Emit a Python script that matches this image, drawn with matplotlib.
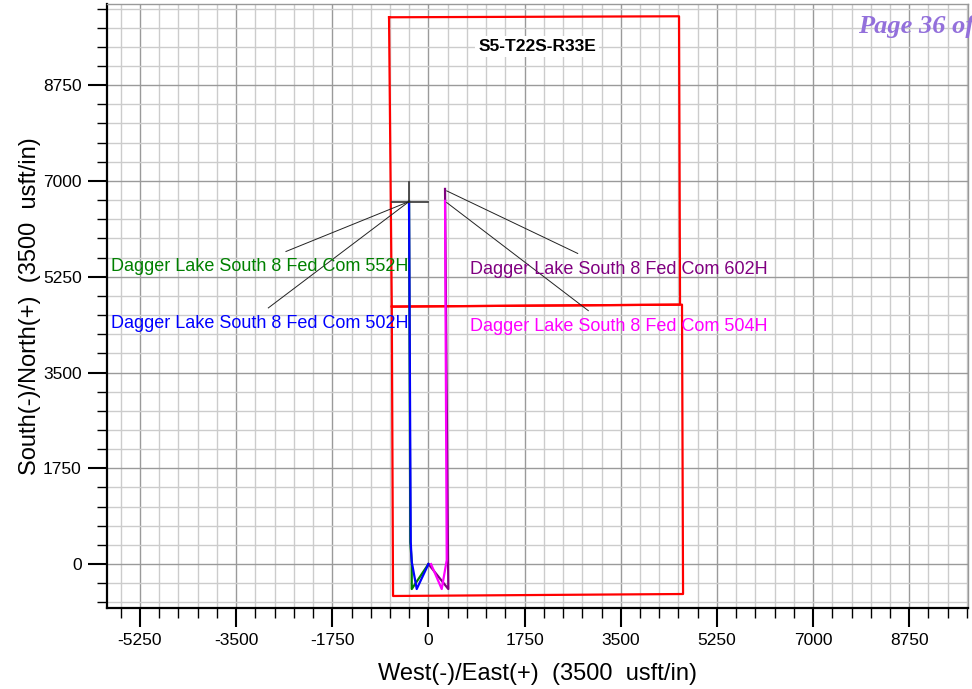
import numpy as np
import matplotlib
matplotlib.use('Agg')
import matplotlib.pyplot as plt
from matplotlib.ticker import MultipleLocator

plt.rcParams['font.family'] = ['Liberation Sans', 'DejaVu Sans']
plt.rcParams['axes.unicode_minus'] = False

# well paths (East, North) in usft
w552_e = [0, -304, -304, -330, -353]
w552_n = [0, -456, 42, 400, 6623]
w502_e = [0, -213, -304, -322, -353]
w502_n = [0, -456, 42, 400, 6623]
w602_e = [0, 362, 357, 302]
w602_n = [0, -456, 73, 6854]
w504_e = [47, 242, 333, 302]
w504_n = [0, -456, 73, 6636]

# section lines
upper_e = [-717, 4561, 4579, -667, -717]
upper_n = [9990, 10008, 4740, 4704, 9990]
lower_e = [-667, 4615, 4634, -644, -667]
lower_n = [4704, 4740, -547, -583, 4704]

# label leaders: (start east, start north, end east, end north)
leaders = [(-353, 6623, -2593, 5711),
           (-353, 6623, -2914, 4680),
           (333, 6818, 2717, 5675),
           (333, 6605, 2910, 4630)]

labels = ['Dagger Lake South 8 Fed Com 552H', 'Dagger Lake South 8 Fed Com 502H',
          'Dagger Lake South 8 Fed Com 602H', 'Dagger Lake South 8 Fed Com 504H']
label_e = [-5777, -5777, 760, 760]
label_n = [5432, 4400, 5390, 4340]
label_colors = ['#008000', '#0000ff', '#800080', '#ff00ff']

fig = plt.figure(figsize=(9.72, 6.89), dpi=100)
ax = fig.add_axes([0.1098, 0.118, 0.8858, 0.876])

ax.set_xlim(-5855, 9815)
ax.set_ylim(-797, 10230)

ax.xaxis.set_major_locator(MultipleLocator(1750))
ax.xaxis.set_minor_locator(MultipleLocator(350))
ax.yaxis.set_major_locator(MultipleLocator(1750))
ax.yaxis.set_minor_locator(MultipleLocator(350))
ax.grid(which='minor', color='#cccccc', lw=1.0, zorder=0)
ax.grid(which='major', color='#9a9a9a', lw=1.0, zorder=0)
ax.set_axisbelow(True)

ax.tick_params(which='major', direction='out', length=14, width=1.5, labelsize=12.5, pad=4)
ax.tick_params(which='minor', direction='out', length=7, width=1.0)
for s in ['left', 'bottom']:
    ax.spines[s].set_linewidth(1.6)
    ax.spines[s].set_color('black')
for s in ['top', 'right']:
    ax.spines[s].set_linewidth(1.0)
    ax.spines[s].set_color('#999999')

ax.plot(upper_e, upper_n, color='#ff0000', lw=1.6, zorder=3)
ax.plot(lower_e, lower_n, color='#ff0000', lw=1.6, zorder=3)

ax.plot(w552_e, w552_n, color='#008000', lw=1.6, zorder=4)
ax.plot(w502_e, w502_n, color='#0000ff', lw=1.6, zorder=5)
ax.plot(w602_e, w602_n, color='#800080', lw=1.6, zorder=4)
ax.plot(w504_e, w504_n, color='#ff00ff', lw=1.6, zorder=5)

# small marks at the top of the west wells
ax.plot([-353, -353], [6974, 6623], color='#333333', lw=1.2, zorder=6)
ax.plot([-668, -13], [6623, 6623], color='#333333', lw=1.2, zorder=6)

for e0, n0, e1, n1 in leaders:
    ax.plot([e0, e1], [n0, n1], color='#222222', lw=0.7, zorder=6)

for txt, e, n, c in zip(labels, label_e, label_n, label_colors):
    ax.text(e, n, txt, color=c, fontsize=13, ha='left', va='center', zorder=7)

ax.text(1977, 9461, 'S5-T22S-R33E', fontsize=12.5, fontweight='bold', ha='center', va='center',
        bbox=dict(facecolor='white', edgecolor='none', pad=2), zorder=7)

ax.set_xlabel('West(-)/East(+)  (3500  usft/in)', fontsize=17, labelpad=11)
ax.set_ylabel('South(-)/North(+)  (3500  usft/in)', fontsize=17, labelpad=1.5)

fig.text(0.883, 0.961, 'Page 36 of 68', fontsize=19, fontstyle='italic', fontweight='bold',
         family='Liberation Serif', color='#9370db', ha='left', va='center')

fig.savefig('out.png', dpi=100)
